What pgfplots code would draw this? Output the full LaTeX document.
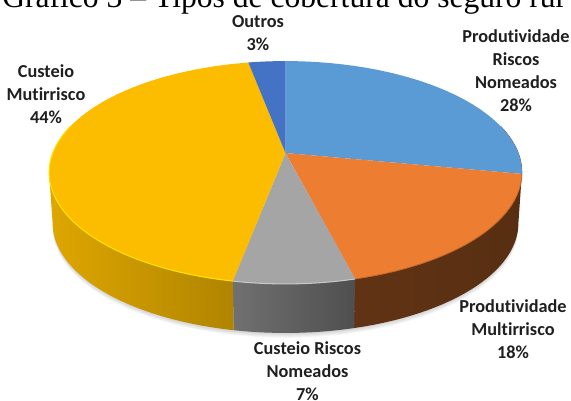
\documentclass[border=0pt]{standalone}
\usepackage{fontspec}
\setmainfont{Carlito}[Ligatures=NoCommon]
\newfontfamily\titlefont{Liberation Serif}
\usepackage{pgfplots}
\pgfplotsset{compat=1.18}

\definecolor{sliceblue}{HTML}{5B9BD5}
\definecolor{sliceorange}{HTML}{ED7D31}
\definecolor{slicegrey}{HTML}{A5A5A5}
\definecolor{sliceyellow}{HTML}{FCBD00}
\definecolor{slicenavy}{HTML}{4472C4}
\definecolor{labelink}{HTML}{1F1F1F}

% Perspective view of the pie: angle in degrees clockwise from the top,
% #2 = scale of the rim, #3 = vertical drop of the rim.
\newcommand{\rimpoint}[3]{%
  \pgfmathsetmacro\ru{sin(#1)}%
  \pgfmathsetmacro\rv{cos(#1)}%
  \pgfmathsetmacro\rd{1+0.175*\rv}%
  \pgfmathsetmacro\rx{285.5+#2*232.8*\ru/\rd}%
  \pgfmathsetmacro\ry{153+#3-#2*108*\rv/\rd}%
  \xdef\polypts{\polypts (\rx,\ry)}%
}
% Appends an arc from angle #1 to angle #2
\newcommand{\rimarc}[4]{%
  \foreach \k in {0,...,30}{%
    \pgfmathsetmacro\ra{#1+(#2-#1)*\k/30}%
    \rimpoint{\ra}{#3}{#4}%
  }%
}
\newcommand{\polyplot}[1]{%
  \edef\polycmd{\noexpand\addplot[\unexpanded{#1}] coordinates {\polypts};}%
  \polycmd
}
% Top face of a slice between two angles
\newcommand{\topface}[3]{%
  \gdef\polypts{(285.5,153)}%
  \rimarc{#1}{#2}{1}{0}%
  \edef\polycmd{\noexpand\addplot[forget plot,draw=none,fill=#3] coordinates {\polypts};}%
  \polycmd
}
% Outer wall between two angles
\newcommand{\wall}[3]{%
  \gdef\polypts{}%
  \rimarc{#1}{#2}{1}{0}%
  \rimarc{#2}{#1}{0.985}{51}%
  \polyplot{forget plot,draw=none,#3}%
}
% Thin line along the rim
\newcommand{\rimline}[4]{%
  \gdef\polypts{}%
  \rimarc{#1}{#2}{1}{#3}%
  \polyplot{forget plot,#4}%
}
% Soft shadow under the disc
\newcommand{\shadowlayer}[1]{%
  \gdef\polypts{}%
  \rimarc{90}{270}{0.985}{#1}%
  \polyplot{forget plot,draw=none,fill=black,fill opacity=0.035}%
}

\begin{document}
\begin{tikzpicture}
\useasboundingbox (0,0) rectangle (428.25pt,300pt);
\clip (0,0) rectangle (428.25pt,300pt);
\begin{axis}[
  at={(0,0)}, anchor=south west,
  scale only axis, width=428.25pt, height=300pt,
  xmin=0, xmax=571, ymin=0, ymax=400, y dir=reverse,
  hide axis, clip=false, no markers,
]
% shadow
\shadowlayer{52}\shadowlayer{53}\shadowlayer{54}\shadowlayer{55}\shadowlayer{56}

% walls
\wall{100}{165.6}{left color=sliceorange!41!black,right color=sliceorange!37!black}
\wall{165.6}{190.8}{left color=black!56,right color=black!69}
\wall{190.8}{260}{left color=sliceyellow!88!black,right color=sliceyellow!70!black}
\rimline{75}{100.5}{0}{draw=black!65,line width=0.5pt}

% top faces, one per share
\gdef\pieCum{0}
\foreach \val/\col in {28/sliceblue,18/sliceorange,7/slicegrey,44/sliceyellow,3/slicenavy}{%
  \pgfmathsetmacro\angA{\pieCum*3.6}%
  \pgfmathsetmacro\pieNew{\pieCum+\val}%
  \pgfmathsetmacro\angB{\pieNew*3.6}%
  \xdef\pieCum{\pieNew}%
  \topface{\angA}{\angB}{\col}%
}

% highlights on the front rim
\rimline{190.8}{285}{0}{draw=yellow!85!orange,line width=0.8pt}
\rimline{165.6}{190.8}{0}{draw=black!22,line width=0.8pt}
\rimline{100.8}{165.6}{0}{draw=sliceorange!80!black,line width=0.6pt}

% labels
\node[font=\titlefont\fontsize{23.7}{26}\selectfont,anchor=base west,inner sep=0pt] at (axis cs:2,7) {Gráfico 3 – Tipos de cobertura do seguro rur};
\tikzset{lab/.style={font=\bfseries\fontsize{13.7}{17.25}\selectfont,text=labelink,align=center,inner sep=0pt}}
\node[lab] at (axis cs:258,33.5) {Outros\\3\%};
\node[lab] at (axis cs:46,94) {Custeio\\Mutirrisco\\44\%};
\node[lab] at (axis cs:516,71) {Produtividade\\Riscos\\Nomeados\\28\%};
\node[lab] at (axis cs:307.5,371) {Custeio Riscos\\Nomeados\\7\%};
\node[lab] at (axis cs:513,329) {Produtividade\\Multirrisco\\18\%};
\end{axis}
\end{tikzpicture}
\end{document}
